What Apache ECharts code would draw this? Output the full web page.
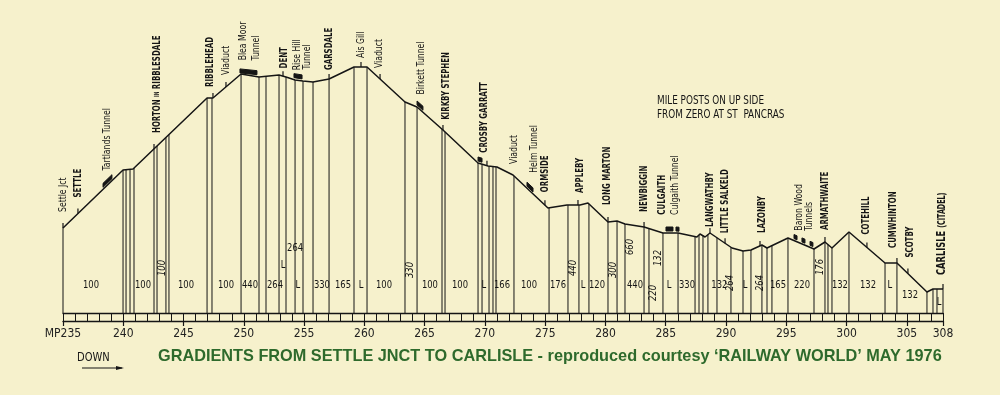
<!DOCTYPE html>
<html><head><meta charset="utf-8">
<script src="https://cdn.jsdelivr.net/npm/echarts/dist/echarts.min.js"></script>
<style>html,body{margin:0;padding:0;background:#f6f1cc;} #c{width:1000px;height:395px;}</style>
</head><body><div id="c"></div>
<script>
// ---- DATA ----
const profileMiles = [235.0,239.98,240.81,246.95,247.44,249.77,251.26,252.92,253.5,254.25,254.9,255.74,257.07,259.14,260.22,263.37,264.37,266.52,269.43,270.26,271.0,272.33,275.23,276.81,277.89,278.55,280.21,280.96,281.62,283.2,284.77,286.02,287.59,287.84,288.26,288.67,290.5,291.41,292.07,292.98,293.4,295.14,297.3,298.21,298.79,300.2,303.19,304.18,306.67,307.17,308.0];
const profileHeights = [490,722,726,1010,1010,1106,1094,1102,1094,1082,1078,1074,1086,1134,1134,994,974,882,750,738,734,702,570,582,582,590,514,518,506,494,470,470,454,466,454,470,410,398,402,422,410,450,406,434,410,474,350,350,234,246,246];

const postMiles = [235.0,239.98,240.23,240.56,240.89,242.55,242.8,243.54,243.79,246.95,247.36,249.77,251.26,251.84,252.92,253.5,254.25,254.91,255.74,257.07,259.14,260.22,263.37,264.37,266.44,266.69,269.43,269.76,270.34,270.67,270.92,272.41,275.32,276.89,277.8,278.63,280.21,280.96,281.62,283.2,283.61,284.77,286.02,287.43,287.76,288.09,288.5,289.25,290.41,291.41,292.07,292.98,293.4,293.81,295.14,297.3,298.21,298.46,298.79,300.2,303.19,304.18,306.67,307.17,307.5,308.0];

const gradMiles = [237.32,241.64,243.21,245.2,248.52,250.51,252.59,254.49,253.25,254.25,256.48,258.23,259.72,261.63,263.78,265.44,267.93,269.92,271.42,273.66,276.06,277.31,278.14,279.3,280.62,282.03,282.45,283.94,284.36,285.27,286.76,289.45,290.38,291.58,292.82,294.31,296.3,297.8,299.45,301.78,303.6,305.26,307.67];
const gradTexts = ['100','100','100','100','100','440','264','L','L','264','330','165','L','100','330','100','100','L','166','100','176','440','L','120','300','660','440','220','132','L','330','132','264','L','264','165','220','176','132','132','L','132','L'];
// layout for gradient labels: height on chart scale, rotated flag
const gradLabelHeights = [262,262,330,262,262,262,262,262,342,410,262,262,262,262,322,262,262,262,262,262,262,330,262,262,322,414,262,230,370,262,262,262,270,262,270,262,262,334,262,262,262,222,194];
const gradRotated = [0,0,1,0,0,0,0,0,0,0,0,0,0,0,1,0,0,0,0,0,0,1,0,0,1,1,0,1,1,0,0,0,1,0,1,0,0,1,0,0,0,0,0];

const stationNames = ['Settle Jct','SETTLE','Tartlands Tunnel','HORTON IN RIBBLESDALE','RIBBLEHEAD','Viaduct','Blea Moor','Tunnel','DENT','Rise Hill','Tunnel','GARSDALE','Ais Gill','Viaduct','Birkett Tunnel','KIRKBY STEPHEN','CROSBY GARRATT','Viaduct','Helm Tunnel','ORMSIDE','APPLEBY','LONG MARTON','NEWBIGGIN','CULGAITH','Culgaith Tunnel','LANGWATHBY','LITTLE SALKELD','LAZONBY','Baron Wood','Tunnels','ARMATHWAITE','COTEHILL','CUMWHINTON','SCOTBY','CARLISLE (CITADEL)'];
const stationMiles = [235.0,236.24,238.65,242.8,247.19,248.52,249.93,251.01,253.33,254.41,255.24,257.07,259.72,261.21,264.7,266.77,269.92,272.41,274.07,274.98,277.89,280.13,283.2,284.69,285.77,288.67,289.92,292.98,296.05,296.88,298.21,301.61,303.85,305.26,307.92];
// layout: label lift above the line (px)
const stationLift = [16,16,15,13,11,12,14,16,8,10,12,9,9,10,16,13,12,12,22,13,12,16,15,18,18,6,10,12,12,16,12,12,15,18,14];

const tickMiles = [235.0,236.24,242.55,247.44,248.52,253.25,257.07,259.72,261.3,266.52,270.17,274.98,277.72,280.21,283.2,288.67,289.92,292.82,298.21,301.69,304.18,305.09,308.0];
const tunnelStarts = [238.32,249.68,254.16,264.37,269.43,273.49,285.02,285.85,295.64,296.3,296.97];
const tunnelEnds   = [239.06,251.09,254.83,264.86,269.76,273.99,285.6,286.1,295.89,296.55,297.21];

const axisLabelMP = 'MP';
const Y_MIN = 150, Y_MAX = 1350;

// ---- helpers ----
function profileAt(m){
  for(let i=0;i<profileMiles.length-1;i++){
    const a=profileMiles[i], b=profileMiles[i+1];
    if(m>=a && m<=b){ const t=(m-a)/(b-a||1); return profileHeights[i]+t*(profileHeights[i+1]-profileHeights[i]); }
  }
  return m<profileMiles[0]?profileHeights[0]:profileHeights[profileHeights.length-1];
}
const NARROW = '"Liberation Sans Narrow","DejaVu Sans Condensed","Liberation Sans",sans-serif';
const INK = '#151515';

const chart = echarts.init(document.getElementById('c'), null, {renderer:'canvas'});
const option = {
  backgroundColor:'#f6f1cc',
  animation:false,
  grid:{left:63,right:57,top:13,bottom:82},
  xAxis:[
    {type:'value',min:235,max:308,interval:1,position:'bottom',
     axisLine:{show:true,lineStyle:{color:INK,width:1.3}},
     axisTick:{show:true,inside:false,length:8,lineStyle:{color:INK,width:1}},
     axisLabel:{show:false},splitLine:{show:false}},
    {type:'value',min:235,max:308,interval:5,position:'bottom',offset:8,
     axisLine:{show:true,lineStyle:{color:INK,width:1.3}},
     axisTick:{show:true,inside:false,length:5,lineStyle:{color:INK,width:1.2}},
     axisLabel:{show:true,margin:7,fontSize:12,color:'#222',fontFamily:NARROW,
       formatter:v=> v===235? axisLabelMP+v : String(v)},
     splitLine:{show:false}}
  ],
  yAxis:{type:'value',min:Y_MIN,max:Y_MAX,show:false},
  series:[
    {type:'line',xAxisIndex:0,data:profileMiles.map((m,i)=>[m,profileHeights[i]]),
     symbol:'none',lineStyle:{color:INK,width:1.5},silent:true,z:5},
    {type:'custom',xAxisIndex:0,data:postMiles.map(m=>[m,Y_MIN]),silent:true,z:4,
     renderItem:(p,api)=>{const m=api.value(0);const t=api.coord([m,profileAt(m)]);const b=api.coord([m,Y_MIN]);
       return {type:'line',shape:{x1:t[0],y1:t[1],x2:b[0],y2:b[1]},style:{stroke:INK,lineWidth:1}};}},
    {type:'custom',xAxisIndex:0,data:tickMiles.map(m=>[m,Y_MIN]),silent:true,z:5,
     renderItem:(p,api)=>{const m=api.value(0);const t=api.coord([m,profileAt(m)]);
       return {type:'line',shape:{x1:t[0],y1:t[1],x2:t[0],y2:t[1]-5},style:{stroke:INK,lineWidth:1.2}};}},
    {type:'custom',xAxisIndex:0,data:tunnelStarts.map((s,i)=>[s,tunnelEnds[i]]),silent:true,z:6,
     renderItem:(p,api)=>{const s=api.value(0),e=api.value(1);const a=api.coord([s,profileAt(s)]),b=api.coord([e,profileAt(e)]);
       return {type:'polygon',shape:{points:[[a[0],a[1]-2],[b[0],b[1]-2],[b[0],b[1]-6],[a[0],a[1]-6]]},style:{fill:INK,stroke:INK,lineWidth:1}};}},
    {type:'custom',xAxisIndex:0,data:gradMiles.map((m,i)=>[m,gradLabelHeights[i]]),silent:true,z:7,
     renderItem:(p,api)=>{const i=p.dataIndex;const c=api.coord([api.value(0),api.value(1)]);const rot=gradRotated[i];
       return {type:'text',x:c[0],y:c[1],rotation:rot?Math.PI/2:0,scaleX:0.85,
         style:{text:gradTexts[i],fill:INK,fontFamily:NARROW,fontSize:11,fontStyle:rot?'italic':'normal',align:'center',verticalAlign:'middle'}};}},
    {type:'custom',xAxisIndex:0,data:stationMiles.map(m=>[m,Y_MIN]),silent:true,z:7,
     renderItem:(p,api)=>{const i=p.dataIndex;const m=stationMiles[i];const c=api.coord([m,profileAt(m)]);
       const name=stationNames[i];const caps=name===name.toUpperCase();
       const style={fill:INK,fontFamily:NARROW,fontSize:11,fontWeight:caps?'bold':'normal',align:'left',verticalAlign:'middle'};
       if(name==='HORTON IN RIBBLESDALE'){style.text='{a|HORTON }{b|IN}{a| RIBBLESDALE}';style.rich={a:{fontFamily:NARROW,fontSize:11,fontWeight:'bold',fill:INK},b:{fontFamily:NARROW,fontSize:7,fontWeight:'bold',fill:INK}};}
       else if(name==='CARLISLE (CITADEL)'){style.text='{a|CARLISLE }{b|(CITADEL)}';style.rich={a:{fontFamily:NARROW,fontSize:13,fontWeight:'bold',fill:INK},b:{fontFamily:NARROW,fontSize:10,fontWeight:'bold',fill:INK}};}
       else style.text=name;
       return {type:'text',x:c[0],y:c[1]-stationLift[i],rotation:Math.PI/2,scaleX:caps?0.71:0.78,style};}}
  ],
  graphic:[
    {type:'text',left:657,top:94,scaleX:0.82,style:{text:'MILE POSTS ON UP SIDE\nFROM ZERO AT ST  PANCRAS',fill:INK,fontFamily:NARROW,fontSize:12,lineHeight:14}},
    {type:'text',left:77,top:351,scaleX:0.85,style:{text:'DOWN',fill:INK,fontFamily:NARROW,fontSize:13}},
    {type:'line',shape:{x1:82,y1:368,x2:122,y2:368},style:{stroke:INK,lineWidth:1.2}},
    {type:'polygon',shape:{points:[[116,366],[124,368],[116,370]]},style:{fill:INK}},
    {type:'text',left:158,top:349,style:{text:'GRADIENTS FROM SETTLE JNCT TO CARLISLE - reproduced courtesy \u2018RAILWAY WORLD\u2019 MAY 1976',fill:'#2e6a2c',fontFamily:'"Liberation Sans",Arial,sans-serif',fontWeight:'bold',fontSize:16.3}}
  ]
};
chart.setOption(option);
</script></body></html>
